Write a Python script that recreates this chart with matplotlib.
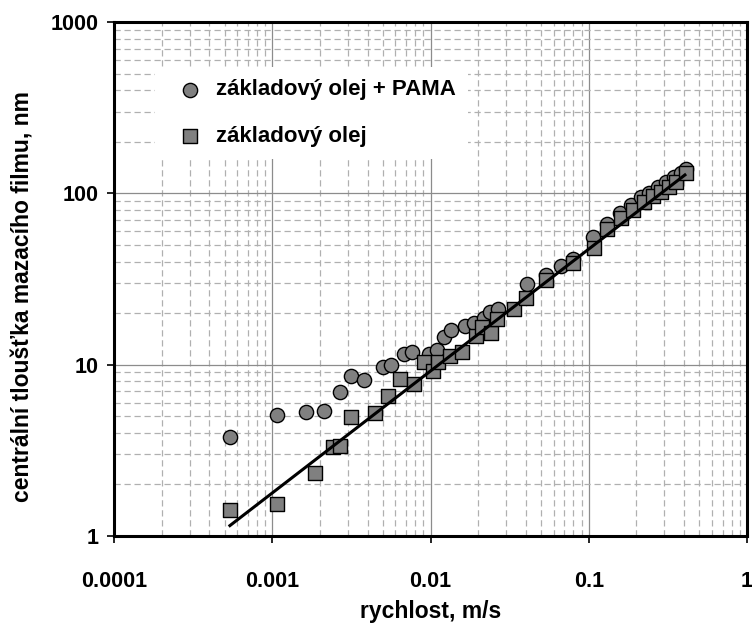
import numpy as np
import matplotlib
matplotlib.use("Agg")
import matplotlib.pyplot as plt
from matplotlib.ticker import LogLocator, FixedLocator, NullFormatter

plt.rcParams['font.family'] = ['Liberation Sans', 'DejaVu Sans']
plt.rcParams['font.weight'] = 'bold'

# ---- data ----
# základový olej + PAMA (kroužky)
pama_x = [0.00054, 0.00107, 0.00163, 0.00212, 0.00266, 0.00315, 0.00378, 0.00499,
          0.00561, 0.00675, 0.00762, 0.00976, 0.0110, 0.0121, 0.0135, 0.0164,
          0.0188, 0.0217, 0.0237, 0.0267, 0.0405, 0.054, 0.0665, 0.080,
          0.107, 0.131, 0.158, 0.185, 0.213, 0.241, 0.272, 0.306, 0.347, 0.38, 0.41]
pama_y = [3.8, 5.1, 5.3, 5.4, 6.9, 8.6, 8.1, 9.7,
          10.0, 11.5, 11.8, 11.6, 12.1, 14.5, 15.9, 16.9,
          17.4, 18.7, 20.4, 21.1, 29.6, 33.4, 37.8, 41.4,
          55.4, 66.0, 76.5, 85.6, 95.0, 101.0, 109.0, 117.0, 125.0, 132.0, 138.0]

# základový olej (čtverce)
base_x = [0.00054, 0.00107, 0.00185, 0.00242, 0.00266, 0.00316, 0.00449, 0.00537,
          0.00643, 0.00784, 0.00908, 0.0103, 0.0111, 0.0132, 0.0159, 0.0195,
          0.0212, 0.0242, 0.0264, 0.0337, 0.0399, 0.0534, 0.080, 0.108,
          0.131, 0.160, 0.189, 0.224, 0.253, 0.286, 0.322, 0.355, 0.41]
base_y = [1.42, 1.53, 2.34, 3.32, 3.37, 4.97, 5.25, 6.6,
          8.3, 7.7, 10.4, 9.2, 10.3, 11.3, 11.9, 14.7,
          16.5, 15.3, 18.4, 21.1, 24.4, 31.2, 39.1, 47.8,
          62.0, 71.6, 80.0, 89.5, 96.0, 102.0, 109.0, 117.0, 132.0]

# mocninný trend (koncové body)
trend_x = [0.00054, 0.405]
trend_y = [1.15, 128.0]

x_ticks = [0.0001, 0.001, 0.01, 0.1, 1]
x_labels = ["0.0001", "0.001", "0.01", "0.1", "1"]
y_ticks = [1, 10, 100, 1000]
y_labels = ["1", "10", "100", "1000"]

# ---- figure ----
fig = plt.figure(figsize=(7.52, 6.28), dpi=100)
ax = fig.add_axes([0.1516, 0.1465, 0.8418, 0.8185])
ax.set_xscale("log")
ax.set_yscale("log")
ax.set_xlim(0.0001, 1)
ax.set_ylim(1, 1000)

ax.scatter(pama_x, pama_y, s=105, marker="o", facecolor="#808080", edgecolor="black",
           linewidth=1.0, zorder=3, label="základový olej + PAMA")
ax.scatter(base_x, base_y, s=115, marker="s", facecolor="#808080", edgecolor="black",
           linewidth=1.0, zorder=4, label="základový olej")
ax.plot(trend_x, trend_y, color="black", linewidth=2.2, zorder=5)

# mřížka ve stylu Excelu
ax.xaxis.set_major_locator(FixedLocator(x_ticks))
ax.yaxis.set_major_locator(FixedLocator(y_ticks))
ax.set_xticklabels(x_labels)
ax.set_yticklabels(y_labels)
ax.xaxis.set_minor_locator(LogLocator(base=10, subs=np.arange(2, 10)))
ax.yaxis.set_minor_locator(LogLocator(base=10, subs=np.arange(2, 10)))
ax.xaxis.set_minor_formatter(NullFormatter())
ax.yaxis.set_minor_formatter(NullFormatter())

ax.grid(which="major", color="#8c8c8c", linewidth=0.9, linestyle="-", zorder=0)
ax.grid(which="minor", color="#b0b0b0", linewidth=0.9, linestyle=(0, (5, 3)), zorder=0)
ax.set_axisbelow(True)

ax.tick_params(which="major", direction="out", length=5, width=1.2, labelsize=15.5, colors="black")
ax.tick_params(which="minor", length=0)
ax.tick_params(axis="x", pad=20)
ax.tick_params(axis="y", pad=6)
for sp in ax.spines.values():
    sp.set_linewidth(2.2)
    sp.set_color("black")

ax.set_xlabel("rychlost, m/s", fontsize=16.5, fontweight="bold", labelpad=6)
ax.set_ylabel("centrální tloušťka mazacího filmu, nm", fontsize=16.5, fontweight="bold")
ax.yaxis.set_label_coords(-0.125, 0.465)

leg = ax.legend(loc="upper left", bbox_to_anchor=(0.065, 0.912), fontsize=16,
                frameon=True, fancybox=False, edgecolor="none", facecolor="white",
                framealpha=1.0, labelspacing=1.15, handletextpad=0.2, borderpad=0.55,
                scatterpoints=1, borderaxespad=0)
leg.set_zorder(6)
for t in leg.get_texts():
    t.set_fontweight("bold")

fig.savefig("out.png", dpi=100)
